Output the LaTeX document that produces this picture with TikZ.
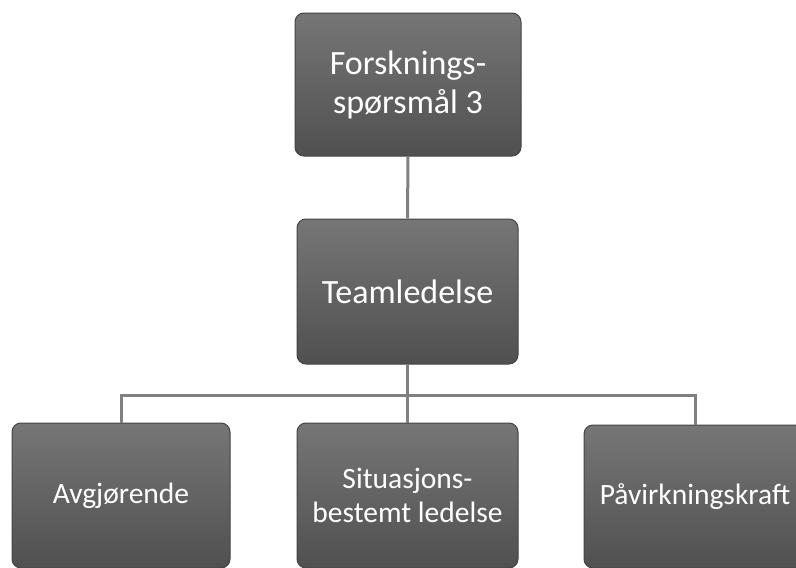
\documentclass[tikz,border=0pt]{standalone}
\usepackage{fontspec}
\setmainfont{Carlito}
\usetikzlibrary{calc}
\definecolor{boxtop}{HTML}{767676}
\definecolor{boxbot}{HTML}{505050}
\definecolor{boxedge}{HTML}{444444}
\definecolor{linkgray}{HTML}{808080}
\tikzset{
  orgbox/.style={rectangle, rounded corners=9pt, draw=boxedge, line width=1pt,
    top color=boxtop, bottom color=boxbot, text=white, align=center,
    inner sep=0pt, font=\fontsize{34}{39}\selectfont},
  lowbox/.style={orgbox, font=\fontsize{29.5}{33.5}\selectfont},
  link/.style={draw=linkgray, line width=3pt}
}
\begin{document}
\begin{tikzpicture}[x=1pt,y=-1pt]
\path[use as bounding box] (0,0) rectangle (796,568);
\clip (0,0) rectangle (796,568);
\fill[white] (0,0) rectangle (796,568);
\node[orgbox, minimum width=226pt, minimum height=143pt] (top) at (408,84.5) {Forsknings-\\spørsmål 3};
\node[orgbox, minimum width=221pt, minimum height=145pt] (mid) at (407.5,291.5) {Teamledelse};
\node[lowbox, minimum width=218pt, minimum height=145pt] (left) at (121,495.5) {Avgjørende};
\node[lowbox, minimum width=221pt, minimum height=145pt] (center) at (407.5,495.5) {Situasjons-\\bestemt ledelse};
\node[lowbox, minimum width=222pt, minimum height=143pt] (right) at (695,496.5) {Påvirkningskraft};
\coordinate (bus) at (407.5,395);
\draw[link] (top.south) -- (mid.north);
\draw[link] (mid.south) -- (center.north);
\draw[link] (left.north) |- (bus) -| (right.north);
\end{tikzpicture}
\end{document}
